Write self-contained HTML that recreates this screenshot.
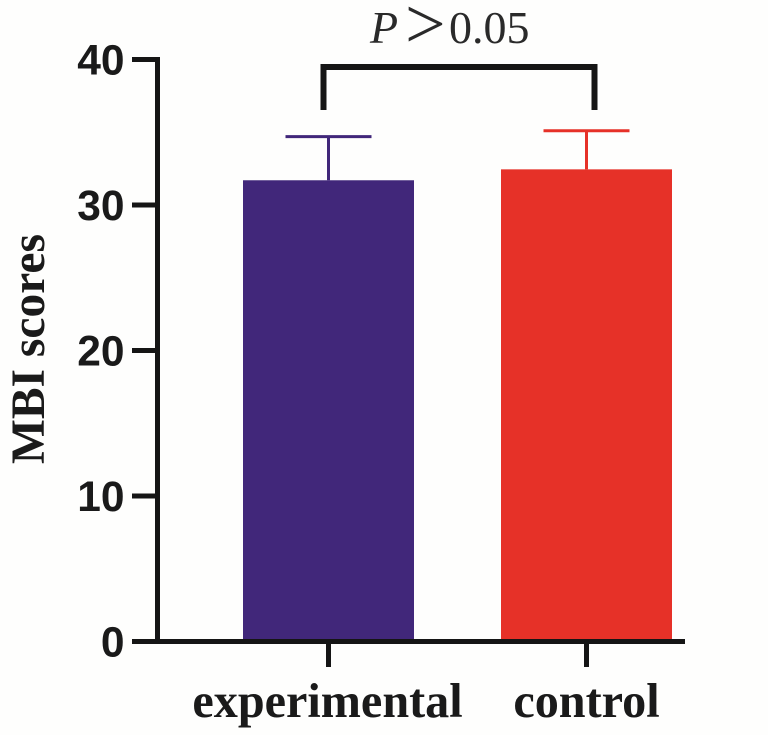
<!DOCTYPE html>
<html lang="en">
<head>
<meta charset="utf-8">
<title>MBI scores</title>
<style>
html,body{margin:0;padding:0;background:#fefefd;}
svg{display:block;}
.tick{font-family:"Liberation Sans",sans-serif;font-weight:700;font-size:42.5px;fill:#1a1a1a;}
.cat{font-family:"Liberation Serif",serif;font-weight:700;font-size:48.2px;fill:#1a1a1a;}
</style>
</head>
<body>
<svg id="chart" width="768" height="735" viewBox="0 0 768 735" xmlns="http://www.w3.org/2000/svg">
<rect x="0" y="0" width="768" height="735" fill="#fefefd"/>
<g id="marks"></g>
<text transform="translate(44 349) rotate(-90)" text-anchor="middle" font-family="'Liberation Serif',serif" font-weight="700" font-size="47.5" fill="#1a1a1a">MBI scores</text>
<g>
<path d="M323.5 110V67H594.5V110" fill="none" stroke="#151515" stroke-width="6"/>
<text font-family="'Liberation Serif',serif" font-size="46" fill="#2a2a2a"><tspan x="370" y="43" font-style="italic">P</tspan><tspan x="449" y="43">0.05</tspan></text>
<text x="405" y="48" font-family="'Liberation Serif',serif" font-size="72" fill="#2a2a2a">&gt;</text>
</g>
</svg>
<script>
const categories = ['experimental', 'control'];
const means = [31.7, 32.45];
const errors = [3.0, 2.65];
const yTicks = [0, 10, 20, 30, 40];
const colors = ['#41277a', '#e63128'];
const svgNS = 'http://www.w3.org/2000/svg';
const marks = document.getElementById('marks');
const yScale = v => 641.5 - v * 14.55;
const xCenter = i => 328.5 + i * 258;
const barWidth = 171;
const capWidth = 86;
const ink = '#151515';
function make(tag, attrs) {
  const el = document.createElementNS(svgNS, tag);
  for (const k in attrs) el.setAttribute(k, attrs[k]);
  marks.appendChild(el);
  return el;
}
categories.forEach((cat, i) => {
  const cx = xCenter(i);
  const top = yScale(means[i]);
  const errTop = yScale(means[i] + errors[i]);
  const bar = make('rect', {x: cx - barWidth / 2, y: top, width: barWidth, height: yScale(0) - top, fill: colors[i]});
  
  
  const stem = make('line', {x1: cx, x2: cx, y1: top, y2: errTop, stroke: colors[i], 'stroke-width': 3});
  
  
  const cap = make('line', {x1: cx - capWidth / 2, x2: cx + capWidth / 2, y1: errTop, y2: errTop, stroke: colors[i], 'stroke-width': 3});
  
  
  const tick = make('line', {x1: cx, x2: cx, y1: yScale(0), y2: 667, stroke: ink, 'stroke-width': 5});
  
  
});
const yAxis = make('line', {x1: 157.5, x2: 157.5, y1: yScale(40) - 2.5, y2: yScale(0) + 2.5, stroke: ink, 'stroke-width': 5});


const xAxis = make('line', {x1: 132, x2: 685, y1: yScale(0), y2: yScale(0), stroke: ink, 'stroke-width': 5});


yTicks.forEach(v => {
  const y = yScale(v);
  const t = make('line', {x1: 132, x2: 157, y1: y, y2: y, stroke: ink, 'stroke-width': 5});
  
  
  const label = make('text', {x: 124.5, y: y + 15, 'text-anchor': 'end', class: 'tick'});
  label.textContent = v;
  
  
});
const catX = [327.5, 586.5];
categories.forEach((cat, i) => {
  const label = make('text', {x: catX[i], y: 717, 'text-anchor': 'middle', class: 'cat'});
  label.textContent = cat;
  
  
});
</script>
</body>
</html>
